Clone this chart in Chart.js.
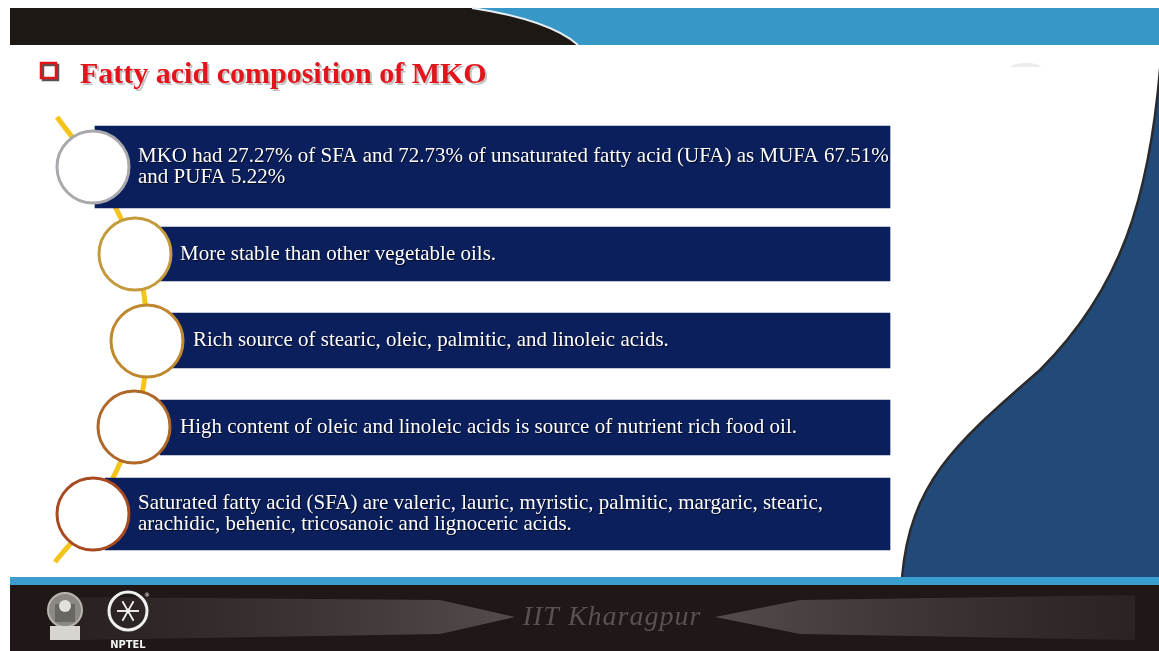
<!DOCTYPE html>
<html>
<head>
<meta charset="utf-8">
<script src="https://cdn.jsdelivr.net/npm/chart.js@4/dist/chart.umd.min.js"></script>
<style>
  html, body { margin: 0; padding: 0; background: #fff; }
  #slide { display: block; }
</style>
</head>
<body>
<canvas id="slide" width="1159" height="651"></canvas>
<script>
// slide content
const title = 'Fatty acid composition of MKO';
const points = [
  ['MKO had 27.27% of SFA and 72.73% of unsaturated fatty acid (UFA) as MUFA 67.51%', 'and PUFA 5.22%'],
  ['More stable than other vegetable oils.'],
  ['Rich source of stearic, oleic, palmitic, and linoleic acids.'],
  ['High content of oleic and linoleic acids is source of nutrient rich food oil.'],
  ['Saturated fatty acid (SFA) are valeric, lauric, myristic, palmitic, margaric, stearic,', 'arachidic, behenic, tricosanoic and lignoceric acids.']
];
const boxStart = [95, 160, 160, 160, 105];
const boxEnd = [890, 890, 890, 890, 890];
const boxTop = [126, 227, 313, 400, 478];
const boxBottom = [208, 281, 368, 455, 550];
const textX = [138, 180, 193, 180, 138];
const circleX = [93, 135, 147, 134, 93];
const circleY = [167, 254, 341, 427, 514];
const ringColors = ['#a9a9ad', '#c39a3c', '#c0882e', '#b0682a', '#a84b22'];
const pathX = [57, ...circleX, 55];
const pathY = [117, ...circleY, 562];

const NAVY = '#0b1f5c';

const backdrop = {
  id: 'backdrop',
  beforeDraw(chart) {
    const ctx = chart.ctx;
    ctx.save();
    ctx.fillStyle = '#fff';
    ctx.fillRect(0, 0, 1159, 651);

    // top banner
    ctx.fillStyle = '#3797c7';
    ctx.fillRect(10, 8, 1149, 37);
    ctx.fillStyle = '#1e1815';
    ctx.beginPath();
    ctx.moveTo(10, 8);
    ctx.lineTo(472, 8);
    ctx.quadraticCurveTo(550, 20, 578, 45);
    ctx.lineTo(10, 45);
    ctx.closePath();
    ctx.fill();
    ctx.strokeStyle = '#e8eef2';
    ctx.lineWidth = 2;
    ctx.beginPath();
    ctx.moveTo(472, 8);
    ctx.quadraticCurveTo(550, 20, 578, 45);
    ctx.stroke();

    // faint ellipse
    ctx.fillStyle = '#ececec';
    ctx.beginPath();
    ctx.ellipse(1026, 67, 15, 4, 0, Math.PI, 0);
    ctx.fill();

    // right wave
    ctx.fillStyle = '#214a78';
    ctx.beginPath();
    ctx.moveTo(1161, 58);
    ctx.bezierCurveTo(1150, 200, 1120, 290, 1040, 370);
    ctx.bezierCurveTo(960, 440, 910, 480, 902, 578);
    ctx.lineTo(1159, 578);
    ctx.closePath();
    ctx.fill();
    ctx.strokeStyle = '#2b2b2e';
    ctx.lineWidth = 2.5;
    ctx.beginPath();
    ctx.moveTo(1161, 58);
    ctx.bezierCurveTo(1150, 200, 1120, 290, 1040, 370);
    ctx.bezierCurveTo(960, 440, 910, 480, 902, 578);
    ctx.stroke();

    // footer
    ctx.fillStyle = '#3a9fcf';
    ctx.fillRect(10, 577, 1149, 8);
    ctx.fillStyle = '#1f1816';
    ctx.fillRect(10, 585, 1149, 66);

    let g = ctx.createLinearGradient(75, 0, 515, 0);
    g.addColorStop(0, 'rgba(70,62,60,0.25)');
    g.addColorStop(1, 'rgba(90,82,80,0.9)');
    ctx.fillStyle = g;
    ctx.beginPath();
    ctx.moveTo(75, 597);
    ctx.lineTo(440, 600);
    ctx.lineTo(515, 617);
    ctx.lineTo(440, 634);
    ctx.lineTo(75, 640);
    ctx.closePath();
    ctx.fill();

    g = ctx.createLinearGradient(715, 0, 1135, 0);
    g.addColorStop(0, 'rgba(90,82,80,0.9)');
    g.addColorStop(1, 'rgba(70,62,60,0.3)');
    ctx.fillStyle = g;
    ctx.beginPath();
    ctx.moveTo(715, 617);
    ctx.lineTo(800, 600);
    ctx.lineTo(1135, 595);
    ctx.lineTo(1135, 640);
    ctx.lineTo(800, 634);
    ctx.closePath();
    ctx.fill();

    ctx.font = 'italic 28px "Liberation Serif"';
    ctx.letterSpacing = '1px';
    ctx.fillStyle = '#5a5150';
    ctx.textAlign = 'center';
    ctx.textBaseline = 'middle';
    ctx.fillText('IIT Kharagpur', 612, 618);
    ctx.letterSpacing = '0px';

    // IIT logo (rough)
    ctx.strokeStyle = '#b8b4b0';
    ctx.fillStyle = '#8c8884';
    ctx.lineWidth = 2;
    ctx.beginPath();
    ctx.arc(65, 610, 17, 0, Math.PI * 2);
    ctx.fill();
    ctx.stroke();
    ctx.fillStyle = '#d8d4d0';
    ctx.fillRect(50, 626, 30, 14);
    ctx.fillStyle = '#6a6662';
    ctx.fillRect(55, 604, 20, 18);
    ctx.fillStyle = '#e4e0dc';
    ctx.beginPath();
    ctx.arc(65, 606, 6, 0, Math.PI * 2);
    ctx.fill();

    // NPTEL logo (rough)
    ctx.strokeStyle = '#f0f0f0';
    ctx.lineWidth = 3;
    ctx.beginPath();
    ctx.arc(128, 611, 19, 0, Math.PI * 2);
    ctx.stroke();
    ctx.lineWidth = 1.5;
    for (let i = 0; i < 6; i++) {
      const a = i * Math.PI / 3;
      ctx.beginPath();
      ctx.moveTo(128 - 11 * Math.cos(a), 611 - 11 * Math.sin(a));
      ctx.lineTo(128 + 11 * Math.cos(a), 611 + 11 * Math.sin(a));
      ctx.stroke();
    }
    ctx.font = 'bold 11px "DejaVu Sans Condensed", "DejaVu Sans"';
    ctx.fillStyle = '#f4f4f4';
    ctx.fillText('NPTEL', 128, 645);
    ctx.font = '6px "DejaVu Sans"';
    ctx.fillText('®', 147, 595);

    // title
    ctx.lineWidth = 2.5;
    ctx.strokeStyle = '#555';
    ctx.strokeRect(43, 65, 15, 15);
    ctx.strokeStyle = '#e3141b';
    ctx.strokeRect(41, 63, 15, 15);
    ctx.textAlign = 'left';
    ctx.textBaseline = 'alphabetic';
    ctx.font = 'bold 30px "Liberation Serif"';
    ctx.fillStyle = 'rgba(120,120,120,0.45)';
    ctx.fillText(title, 82, 85);
    ctx.fillStyle = '#e3141b';
    ctx.fillText(title, 80, 83);
    ctx.restore();
  }
};

const captions = {
  id: 'captions',
  afterDatasetsDraw(chart) {
    const ctx = chart.ctx;
    const y = chart.scales.y;
    ctx.save();
    ctx.font = '21px "Liberation Serif"';
    ctx.fillStyle = '#ffffff';
    ctx.textAlign = 'left';
    ctx.textBaseline = 'middle';
    ctx.shadowColor = 'rgba(0,0,0,0.7)';
    ctx.shadowOffsetX = 1;
    ctx.shadowOffsetY = 1;
    points.forEach((lines, i) => {
      const mid = y.getPixelForValue((boxTop[i] + boxBottom[i]) / 2);
      const x0 = chart.scales.x.getPixelForValue(textX[i]);
      lines.forEach((t, j) => {
        const off = (j - (lines.length - 1) / 2) * 21;
        ctx.fillText(t, x0, mid + off);
      });
    });
    ctx.restore();
  }
};

const boxSets = points.map((p, i) => ({
  type: 'bar',
  data: [{ y: (boxTop[i] + boxBottom[i]) / 2, x: [boxStart[i], boxEnd[i]] }],
  backgroundColor: NAVY,
  borderWidth: 0,
  barThickness: boxBottom[i] - boxTop[i],
  grouped: false,
  order: 2
}));

new Chart(document.getElementById('slide'), {
  type: 'bar',
  data: {
    datasets: [
      {
        type: 'line',
        data: pathX.map((x, i) => ({ x: x, y: pathY[i] })),
        borderColor: '#f5c41a',
        borderWidth: 5,
        pointRadius: 0,
        tension: 0.35,
        fill: false,
        order: 3
      },
      ...boxSets,
      {
        type: 'bubble',
        data: circleX.map((x, i) => ({ x: x, y: circleY[i], r: 36 })),
        backgroundColor: '#ffffff',
        borderColor: ringColors,
        borderWidth: 3,
        order: 1
      }
    ]
  },
  options: {
    indexAxis: 'y',
    responsive: false,
    animation: false,
    devicePixelRatio: 1,
    layout: { padding: 0, autoPadding: false },
    plugins: { legend: { display: false }, tooltip: { enabled: false } },
    scales: {
      x: { type: 'linear', min: 0, max: 1159, offset: false, display: false },
      y: { type: 'linear', min: 0, max: 651, reverse: true, offset: false, display: false }
    }
  },
  plugins: [backdrop, captions]
});
</script>
</body>
</html>
